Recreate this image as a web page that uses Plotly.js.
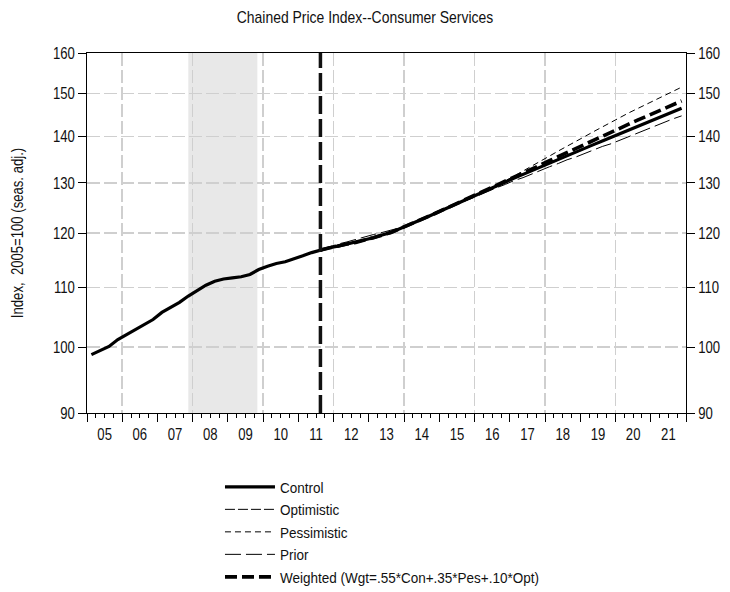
<!DOCTYPE html>
<html><head><meta charset="utf-8">
<script src="https://cdn.plot.ly/plotly-3.0.1.min.js"></script>
<style>html,body{margin:0;padding:0;background:#fff}#chart{width:730px;height:592px}</style>
</head><body><div id="chart"></div>
<script>
// ---- data ----
const firstYear = 2005;               // first quarter of data: 2005Q1
const forecastStartIndex = 26;         // 2011Q3
const yearLabels = ['05','06','07','08','09','10','11','12','13','14','15','16','17','18','19','20','21'];
const yTicks = [90,100,110,120,130,140,150,160];
const recession = ['2007Q4','2009Q4'];
const forecastStart = '2011Q3';

// Control history 2005Q1 .. 2011Q3
const controlHist = [98.8,99.5,100.1,101.2, 102.0,102.8,103.7,104.5, 105.7,106.6,107.4,108.5,
  109.4,110.4,111.1,111.5, 111.7,111.9,112.3,113.2, 113.8,114.3,114.6,115.1, 115.7,116.3,116.8];
// Forecasts 2011Q3 .. 2021Q4
const controlFcst = [116.8,117.2, 117.5,117.9,118.2,118.6, 119.1,119.6,120.1,120.8, 121.5,122.3,123.0,123.8,
  124.6,125.4,126.2,127.0, 127.8,128.6,129.4,130.2, 131.0,131.8,132.6,133.4, 134.2,135.0,135.8,136.6,
  137.4,138.2,139.0,139.8, 140.6,141.4,142.3,143.1, 144.0,144.8,145.7,146.5];
const optimistic = [116.8,117.2, 117.5,117.9,118.2,118.6, 119.1,119.6,120.1,120.8, 121.5,122.3,123.0,123.8,
  124.6,125.4,126.2,127.0, 127.8,128.6,129.4,130.2, 130.9,131.7,132.5,133.3, 134.1,134.9,135.7,136.5,
  137.3,138.1,138.9,139.7, 140.5,141.3,142.2,143.0, 143.9,144.7,145.6,146.4];
const pessimistic = [116.8,117.2, 117.4,117.8,118.1,118.5, 119.0,119.5,120.0,120.7, 121.5,122.3,123.0,123.8,
  124.6,125.4,126.2,127.0, 127.8,128.6,129.5,130.5, 131.4,132.5,133.5,134.6, 135.7,136.8,137.8,138.9,
  140.0,141.1,142.2,143.3, 144.4,145.4,146.4,147.4, 148.5,149.4,150.5,151.5];
const prior = [116.8,117.4, 117.9,118.3,118.8,119.2, 119.7,120.1,120.5,121.0, 121.6,122.4,123.0,123.8,
  124.5,125.3,126.1,126.7, 127.5,128.2,129.0,129.7, 130.5,131.1,131.9,132.6, 133.4,134.1,134.9,135.5,
  136.3,137.0,137.8,138.4, 139.2,140.0,140.7,141.5, 142.4,143.1,144.0,144.7];
const weighted = [116.8,117.2, 117.5,117.9,118.2,118.6, 119.1,119.6,120.1,120.8, 121.5,122.3,123.0,123.8,
  124.6,125.4,126.2,127.0, 127.8,128.6,129.4,130.3, 131.1,132.0,132.9,133.8, 134.7,135.6,136.5,137.4,
  138.3,139.2,140.1,141.0, 141.9,142.8,143.7,144.6, 145.6,146.4,147.4,148.2];

// ---- helpers ----
function qpos(label){ // 'YYYYQn' -> decimal year at mid-quarter
  const y = +label.slice(0,4), q = +label.slice(5);
  return y + (q-1)/4 + 0.125;
}
function qlabel(i){ const y = firstYear + Math.floor(i/4); return y + 'Q' + (i%4+1); }
const nAll = controlHist.length + controlFcst.length - 1;
const xAll = Array.from({length:nAll}, (_,i)=>qpos(qlabel(i)));
const xFc = xAll.slice(forecastStartIndex);
const control = controlHist.concat(controlFcst.slice(1));
const yearStarts = yearLabels.map((_,i)=>firstYear+i).concat([firstYear+yearLabels.length]);
const yearMids = yearLabels.map((_,i)=>firstYear+i+0.5);
const xr = [firstYear, firstYear+yearLabels.length];
const yr = [Math.log10(yTicks[0]), Math.log10(yTicks[yTicks.length-1])];

const FONT = 'Liberation Sans Narrow, Arial Narrow, Liberation Sans, Arial, sans-serif';
const traces = [
  {x:xAll, y:control, name:'Control', mode:'lines', line:{color:'#000', width:3.2}},
  {x:xFc, y:optimistic, name:'Optimistic', mode:'lines', line:{color:'#000', width:1, dash:'10px,3px'}},
  {x:xFc, y:pessimistic, name:'Pessimistic', mode:'lines', line:{color:'#000', width:1, dash:'6px,4px'}},
  {x:xFc, y:prior, name:'Prior', mode:'lines', line:{color:'#000', width:1, dash:'16px,5px'}},
  {x:xFc, y:weighted, name:'Weighted (Wgt=.55*Con+.35*Pes+.10*Opt)', mode:'lines', line:{color:'#000', width:3.6, dash:'12px,5px'}},
  // carriers for the helper axes (no visible marks)
  {x:xr, y:[yTicks[0],yTicks[0]], xaxis:'x2', yaxis:'y', mode:'lines', line:{width:0}, showlegend:false, hoverinfo:'skip'},
  {x:xr, y:[yTicks[0],yTicks[0]], xaxis:'x3', yaxis:'y', mode:'lines', line:{width:0}, showlegend:false, hoverinfo:'skip'},
  {x:xr, y:[yTicks[0],yTicks[0]], xaxis:'x', yaxis:'y2', mode:'lines', line:{width:0}, showlegend:false, hoverinfo:'skip'}
];

const gridCol = '#cfcfcf';
const TXT = '#111';
const layout = {
  width:730, height:592,
  margin:{l:87, r:44, t:53, b:179, autoexpand:false},
  paper_bgcolor:'#fff', plot_bgcolor:'#fff',
  font:{family:FONT, size:16, color:TXT},
  title:{text:'Chained Price Index--Consumer Services', x:0.5, xref:'container', y:1-17/592, yref:'container', yanchor:'middle', font:{family:FONT, size:17, color:TXT}},
  showlegend:true,
  legend:{x:0.222, xanchor:'left', y:-0.16, yanchor:'top', font:{family:FONT, size:15, color:TXT}, itemwidth:50, tracegroupgap:0, bgcolor:'rgba(0,0,0,0)'},
  xaxis:{range:xr, tickmode:'array', tickvals:yearMids, ticktext:yearLabels, ticks:'outside', ticklen:7, tickcolor:'rgba(0,0,0,0)',
         showgrid:false, zeroline:false, showline:true, mirror:true, linecolor:'#000', linewidth:1, tickfont:{family:FONT,size:16,color:TXT}},
  xaxis2:{range:xr, overlaying:'x', anchor:'y', side:'bottom', tickmode:'array', tickvals:yearStarts, ticks:'outside', ticklen:8, tickcolor:'#000',
          showticklabels:false, showgrid:false, zeroline:false, showline:false,
          minor:{tickmode:'linear', tick0:firstYear, dtick:0.25, ticks:'outside', ticklen:4, tickcolor:'#000', showgrid:false}},
  xaxis3:{range:xr, overlaying:'x', anchor:'y', side:'bottom', tickmode:'array', tickvals:yearStarts.filter(v=>v%2===0), ticks:'', showticklabels:false,
          showgrid:true, gridcolor:gridCol, gridwidth:1.5, griddash:'13px,4px', zeroline:false, showline:false},
  yaxis:{type:'log', range:yr, tickmode:'array', tickvals:yTicks, ticktext:yTicks.map(String), ticks:'outside', ticklen:8, tickcolor:'#000',
         showgrid:true, gridcolor:gridCol, gridwidth:1.5, griddash:'13px,4px', zeroline:false, showline:true, linecolor:'#000', linewidth:1,
         title:{text:'Index,  2005=100 (seas. adj.)', font:{family:FONT,size:16,color:TXT}, standoff:20}, tickfont:{family:FONT,size:16,color:TXT}},
  yaxis2:{type:'log', range:yr, overlaying:'y', side:'right', anchor:'x', tickmode:'array', tickvals:yTicks, ticktext:yTicks.map(String), ticks:'outside', ticklen:8, tickcolor:'#000',
          showgrid:false, zeroline:false, showline:true, linecolor:'#000', linewidth:1, tickfont:{family:FONT,size:16,color:TXT}},
  shapes:[
    {type:'rect', xref:'x', yref:'paper', x0:qpos(recession[0]), x1:qpos(recession[1])-0.04, y0:0, y1:1, fillcolor:'#e8e8e8', line:{width:0}, layer:'below'},
    {type:'line', xref:'x', yref:'paper', x0:qpos(forecastStart), x1:qpos(forecastStart), y0:0, y1:1, line:{color:'#111', width:3.5, dash:'18px,5px'}, layer:'above'}
  ]
};
// Narrow-font emulation: squeeze glyphs horizontally (no condensed face is installed)
function squeeze(gd){
  gd.querySelectorAll('svg text').forEach(t=>{
    const f = t.matches('.legendtext') ? 0.9 : 0.82;
    const w = t.getComputedTextLength();
    if(w>0){ t.setAttribute('textLength',(w*f).toFixed(2)); t.setAttribute('lengthAdjust','spacingAndGlyphs'); }
  });
}
Plotly.newPlot('chart', traces, layout, {staticPlot:true, displayModeBar:false}).then(squeeze);
</script>
</body></html>
